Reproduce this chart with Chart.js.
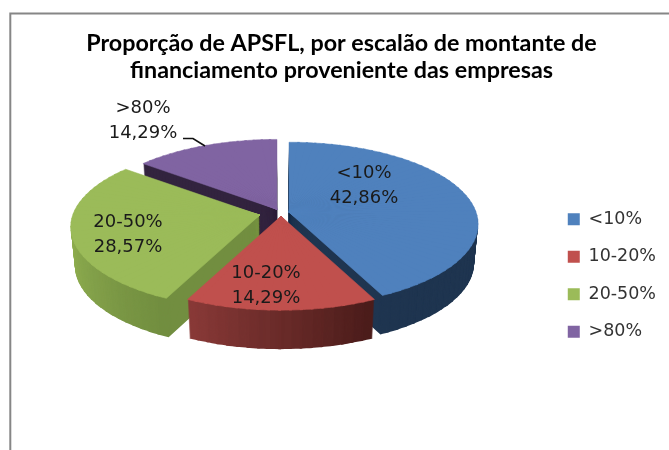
<!DOCTYPE html>
<html>
<head>
<meta charset="utf-8">
<style>
html,body{margin:0;padding:0;background:#fff;}
#wrap{width:669px;height:450px;position:relative;overflow:hidden;}
canvas{display:block;filter:blur(0.45px);}
</style>
<script src="https://cdn.jsdelivr.net/npm/chart.js@4/dist/chart.umd.min.js"></script>
</head>
<body>
<div id="wrap"><canvas id="c" width="669" height="450"></canvas></div>
<script>
const titleLines = ['Proporção de APSFL, por escalão de montante de', 'financiamento proveniente das empresas'];
const categories = ['<10%', '10-20%', '20-50%', '>80%'];
const shares = [42.86, 14.29, 28.57, 14.29];
const topColors = ['#4f81bd', '#c0504d', '#9bbb59', '#8064a2'];
const wallStops = [['#1f3550', '#1f3550'], ['#4a1c1a', '#8a3a38'], ['#718d40', '#8fae50', '#8fae50'], ['#33243f', '#33243f']];
const explodeBy = [0.044, 0.04, 0.116, 0.05];
const paintOrder = [3, 2, 0, 1];
const labelCentres = [[364, 185.5], [266, 285.5], [128, 234.5], [143, 120.5]];

const view = {cx: 281, cy: 213, rx: 187, ry: 80.2, persp: 0.146, depth: 39, shrink: 0.02, pieceDeg: 3};

function project(u, v) {
  const k = 1 / (1 - view.persp * v);
  return [view.rx * u * k, view.ry * v * k];
}
function mix(stops, f) {
  const s = f * (stops.length - 1), i = Math.min(Math.floor(s), stops.length - 2), t = s - i;
  const p = (h, n) => parseInt(h.substr(1 + 2 * n, 2), 16);
  const ch = n => Math.round(p(stops[i], n) * (1 - t) + p(stops[i + 1], n) * t);
  return `rgb(${ch(0)},${ch(1)},${ch(2)})`;
}
function flatOptions(color, edge) {
  return {backgroundColor: color, borderColor: color, borderWidth: edge, borderAlign: 'center',
    borderJoinStyle: 'round', borderRadius: 0, borderDash: [], borderDashOffset: 0, offset: 0, spacing: 0, circular: true};
}
function drawPieces(ctx, el, index, colorOf, drop) {
  const saved = {s: el.startAngle, e: el.endAngle, c: el.circumference, o: el.options};
  const span = saved.e - saved.s;
  const n = Math.ceil(span / (view.pieceDeg * Math.PI / 180));
  const mid = (saved.s + saved.e) / 2;
  const g = project(explodeBy[index] * Math.cos(mid), explodeBy[index] * Math.sin(mid));
  const ax = view.cx + g[0], ay = view.cy + g[1];
  const r = el.outerRadius, x = el.x, y = el.y;
  for (let i = 0; i < n; i++) {
    const a0 = saved.s + span * i / n, a1 = saved.s + span * (i + 1) / n;
    const e1x = r * Math.cos(a0), e1y = r * Math.sin(a0), e2x = r * Math.cos(a1), e2y = r * Math.sin(a1);
    const d1 = project(Math.cos(a0), Math.sin(a0)), d2 = project(Math.cos(a1), Math.sin(a1));
    const det = e1x * e2y - e2x * e1y;
    const a = (d1[0] * e2y - d2[0] * e1y) / det, c = (d2[0] * e1x - d1[0] * e2x) / det;
    const b = (d1[1] * e2y - d2[1] * e1y) / det, d = (d2[1] * e1x - d1[1] * e2x) / det;
    ctx.save();
    if (drop > 0) {
      const sc = 1 - view.shrink * drop / view.depth;
      ctx.translate(view.cx, drop);
      ctx.scale(sc, 1);
      ctx.translate(-view.cx, 0);
    }
    ctx.transform(a, b, c, d, ax - a * x - c * y, ay - b * x - d * y);
    // pieces overlap slightly so that no seam shows between them
    const overlap = i < n - 1 ? (a1 - a0) * 0.25 : 0;
    el.startAngle = a0; el.endAngle = a1 + overlap; el.circumference = a1 + overlap - a0;
    el.options = flatOptions(colorOf((i + 0.5) / n), drop > 0 ? 0 : 0.7);
    el.draw(ctx);
    ctx.restore();
  }
  el.startAngle = saved.s; el.endAngle = saved.e; el.circumference = saved.c; el.options = saved.o;
}

const frame3d = {
  id: 'frame3d',
  beforeDraw(chart) {
    const ctx = chart.ctx;
    ctx.save();
    ctx.strokeStyle = '#868686';
    ctx.lineWidth = 2;
    ctx.beginPath();
    ctx.moveTo(10.3, 450);
    ctx.lineTo(10.3, 13.5);
    ctx.lineTo(669, 13.5);
    ctx.stroke();
    ctx.restore();
  },
  beforeDatasetDraw(chart, args) {
    const ctx = chart.ctx, arcs = args.meta.data;
    for (const i of paintOrder) {
      const el = arcs[i];
      for (let drop = view.depth; drop >= 1; drop--) {
        drawPieces(ctx, el, i, f => mix(wallStops[i], f), drop);
      }
      drawPieces(ctx, el, i, () => topColors[i], 0);
    }
    return false;
  },
  afterDatasetsDraw(chart) {
    const ctx = chart.ctx;
    ctx.save();
    ctx.strokeStyle = '#111';
    ctx.lineWidth = 1.6;
    ctx.beginPath();
    ctx.moveTo(183, 138.5);
    ctx.lineTo(193, 138.5);
    ctx.lineTo(205, 146);
    ctx.stroke();
    ctx.fillStyle = '#1a1a1a';
    ctx.font = '18px "DejaVu Sans"';
    ctx.textAlign = 'center';
    ctx.textBaseline = 'middle';
    categories.forEach((name, i) => {
      const [x, y] = labelCentres[i];
      ctx.fillText(name, x, y - 12.5);
      ctx.fillText(shares[i].toFixed(2).replace('.', ',') + '%', x, y + 12.5);
    });
    ctx.restore();
  }
};

new Chart(document.getElementById('c'), {
  type: 'pie',
  plugins: [frame3d],
  data: {
    labels: categories,
    datasets: [{data: shares, backgroundColor: topColors, borderWidth: 0}]
  },
  options: {
    responsive: false,
    animation: false,
    layout: {padding: {top: 30, right: 3, left: 17, bottom: 0}},
    plugins: {
      tooltip: {enabled: false},
      title: {
        display: true,
        text: titleLines,
        color: '#000',
        font: {family: 'Lato', size: 23.3, weight: 'bold', lineHeight: 1.16},
        padding: {top: 0, bottom: 17}
      },
      legend: {
        position: 'right',
        fullSize: false,
        labels: {
          boxWidth: 12, boxHeight: 12, padding: 20,
          color: '#333',
          font: {family: '"DejaVu Sans"', size: 17.5}
        }
      }
    }
  }
});
</script>
</body>
</html>
